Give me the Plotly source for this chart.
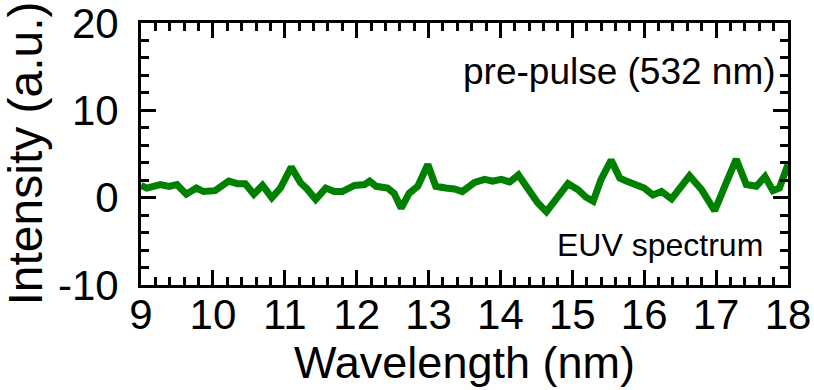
import plotly.graph_objects as go

# EUV spectrum measured with the 532 nm pre-pulse
wavelength_nm = [
    9.00, 9.08, 9.27, 9.39, 9.50, 9.63, 9.77, 9.87, 10.03, 10.22, 10.34, 10.45,
    10.57, 10.69, 10.82, 10.94, 11.09, 11.22, 11.31, 11.43, 11.57, 11.69, 11.80,
    11.97, 12.11, 12.18, 12.27, 12.43, 12.52, 12.62, 12.73, 12.85, 12.99, 13.10,
    13.24, 13.36, 13.47, 13.64, 13.78, 13.89, 14.01, 14.13, 14.25, 14.38, 14.52,
    14.64, 14.80, 14.94, 15.08, 15.19, 15.29, 15.40, 15.54, 15.66, 15.75, 15.87,
    16.00, 16.12, 16.24, 16.38, 16.49, 16.63, 16.80, 16.98, 17.12, 17.28, 17.42,
    17.56, 17.68, 17.79, 17.88, 18.00,
]
intensity_au = [
    1.4, 1.1, 1.5, 1.3, 1.5, 0.4, 1.1, 0.7, 0.8, 1.9, 1.6, 1.6,
    0.4, 1.4, 0.0, 1.1, 3.5, 1.7, 1.0, -0.2, 1.1, 0.7, 0.7,
    1.4, 1.5, 1.9, 1.3, 1.1, 0.5, -1.2, 0.5, 1.3, 3.8, 1.3,
    1.1, 1.0, 0.7, 1.75, 2.1, 1.9, 2.1, 1.8, 2.6, 1.1, -0.6,
    -1.6, 0.15, 1.6, 0.9, 0.05, -0.4, 2.1, 4.3, 2.25, 1.9, 1.5,
    1.1, 0.3, 0.7, -0.15, 1.1, 2.5, 0.9, -1.5, 1.3, 4.4, 1.5,
    1.3, 2.4, 0.8, 1.1, 3.8,
]

x_ticks = list(range(9, 19))
y_ticks = [-10, 0, 10, 20]

FONT = "Liberation Sans, Arial, sans-serif"

fig = go.Figure()
fig.add_trace(go.Scatter(
    x=wavelength_nm, y=intensity_au, mode="lines",
    line=dict(color="#008000", width=7),
    showlegend=False,
))

tick_font = dict(family=FONT, size=42, color="black")

fig.update_xaxes(
    range=[9, 18], tickvals=x_ticks, ticktext=[str(v) for v in x_ticks],
    ticks="inside", ticklen=15, tickwidth=3, tickcolor="black",
    minor=dict(dtick=0.2, tick0=9, ticks="inside", ticklen=8, tickwidth=3, tickcolor="black"),
    showline=True, linewidth=3, linecolor="black", mirror="allticks",
    showgrid=False, zeroline=False, tickfont=tick_font, automargin=False,
    ticklabelstandoff=-9, ticklabeloverflow="allow",
)
fig.update_yaxes(
    range=[-10, 20], tickvals=y_ticks, ticktext=[str(v) for v in y_ticks],
    ticks="inside", ticklen=15, tickwidth=3, tickcolor="black",
    minor=dict(dtick=2, tick0=0, ticks="inside", ticklen=8, tickwidth=3, tickcolor="black"),
    showline=True, linewidth=3, linecolor="black", mirror="allticks",
    showgrid=False, zeroline=False, tickfont=tick_font, automargin=False,
    ticklabelstandoff=11, ticklabeloverflow="allow",
)

# axis titles
fig.add_annotation(x=0.5, y=-0.295, xref="paper", yref="paper", text="Wavelength (nm)",
                   showarrow=False, xanchor="center", yanchor="middle",
                   font=dict(family=FONT, size=45, color="black"))
fig.add_annotation(x=-0.18, y=0.5, xref="paper", yref="paper", text="Intensity (a.u.)",
                   showarrow=False, xanchor="center", yanchor="middle", textangle=-90,
                   font=dict(family=FONT, size=48, color="black"))

# in-plot labels
fig.add_annotation(x=17.86, y=14.4, xref="x", yref="y", text="pre-pulse (532 nm)",
                   showarrow=False, xanchor="right", yanchor="middle",
                   font=dict(family=FONT, size=37, color="black"))
fig.add_annotation(x=17.68, y=-5.4, xref="x", yref="y", text="EUV spectrum",
                   showarrow=False, xanchor="right", yanchor="middle",
                   font=dict(family=FONT, size=32, color="black"))

fig.update_layout(
    width=814, height=390,
    margin=dict(l=141, r=26, t=23, b=105),
    plot_bgcolor="white", paper_bgcolor="white",
)

fig.write_html("out.html")
